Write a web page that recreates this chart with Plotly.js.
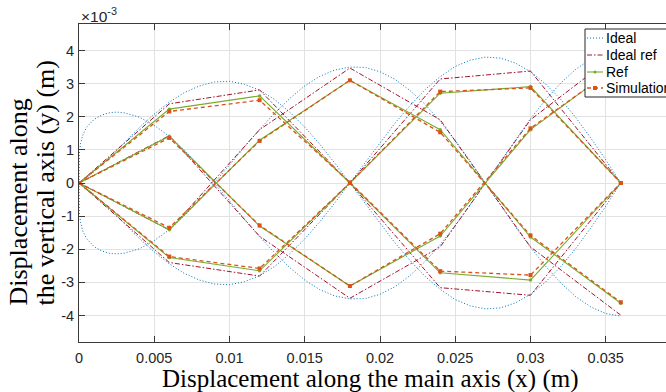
<!DOCTYPE html>
<html><head><meta charset="utf-8">
<script src="https://cdn.plot.ly/plotly-3.0.1.min.js"></script>
<style>html,body{margin:0;padding:0;overflow:hidden;background:#fff}#chart{width:682px;height:392px}</style>
</head><body><div id="chart"></div>
<script>
// ---------- data (x in m, y in 1e-3 m) ----------
const xSample = [0, 0.006, 0.012, 0.018, 0.024, 0.030, 0.036];

// Ideal ref (sampled ideal), four trajectories
const idealRefA = [0, 2.39, 2.81, 0, -3.16, -3.39, 0];
const idealRefB = [0, -2.40, -2.81, 0, 3.14, 3.38, 0];
const idealRefC = [0, 1.43, -1.61, -3.48, -1.93, 1.91, 4.00];
const idealRefD = [0, -1.42, 1.61, 3.47, 1.91, -1.93, -3.99];

// Ref
const refA = [0, 2.23, 2.63, 0, -2.71, -2.93, 0];
const refB = [0, -2.25, -2.65, 0, 2.71, 2.91, 0];
const refC = [0, 1.41, -1.30, -3.11, -1.60, 1.61, 3.62];
const refD = [0, -1.41, 1.29, 3.10, 1.61, -1.63, -3.63];

// Simulation
const simA = [0, 2.16, 2.50, 0.02, -2.66, -2.78, 0];
const simB = [0, -2.22, -2.58, 0, 2.76, 2.87, 0];
const simC = [0, 1.36, -1.28, -3.11, -1.53, 1.65, 3.60];
const simD = [0, -1.35, 1.27, 3.10, 1.53, -1.58, -3.60];

// Ideal (continuous curves)
const xIdeal = [0, 0.00002, 0.0001, 0.00025, 0.0005, 0.001, 0.0015, 0.002, 0.0025, 0.003,
  0.004, 0.005, 0.006, 0.007, 0.008, 0.009, 0.010, 0.011, 0.012, 0.013, 0.014, 0.015, 0.016,
  0.017, 0.018, 0.019, 0.020, 0.021, 0.022, 0.023, 0.024, 0.025, 0.026, 0.027, 0.028, 0.029,
  0.030, 0.031, 0.032, 0.033, 0.034, 0.035, 0.036];
const idealA = [0, 0.003, 0.02, 0.06, 0.15, 0.34, 0.55, 0.77, 1.00, 1.22, 1.67, 2.08, 2.44, 2.73,
  2.93, 3.05, 3.07, 2.98, 2.80, 2.52, 2.14, 1.69, 1.17, 0.60, 0, -0.62, -1.22, -1.81, -2.34,
  -2.82, -3.21, -3.52, -3.71, -3.80, -3.77, -3.62, -3.36, -2.99, -2.53, -1.98, -1.36, -0.70, 0];
const idealB = [0, -0.003, -0.02, -0.06, -0.15, -0.34, -0.55, -0.77, -1.00, -1.22, -1.67, -2.08,
  -2.44, -2.73, -2.93, -3.05, -3.07, -2.98, -2.80, -2.52, -2.14, -1.69, -1.17, -0.60, 0, 0.62,
  1.22, 1.81, 2.34, 2.82, 3.21, 3.52, 3.71, 3.80, 3.77, 3.62, 3.36, 2.99, 2.53, 1.98, 1.36, 0.70, 0];
const idealC = [0, 0.85, 1.18, 1.45, 1.68, 1.92, 2.05, 2.12, 2.14, 2.12, 1.99, 1.74, 1.41, 0.99,
  0.52, 0, -0.54, -1.09, -1.62, -2.11, -2.55, -2.93, -3.22, -3.41, -3.50, -3.49, -3.36, -3.13,
  -2.79, -2.37, -1.86, -1.28, -0.66, 0, 0.66, 1.32, 1.94, 2.51, 3.01, 3.43, 3.74, 3.94, 4.02];
const idealD = [0, -0.85, -1.18, -1.45, -1.68, -1.92, -2.05, -2.12, -2.14, -2.12, -1.99, -1.74,
  -1.41, -0.99, -0.52, 0, 0.54, 1.09, 1.62, 2.11, 2.55, 2.93, 3.22, 3.41, 3.50, 3.49, 3.36, 3.13,
  2.79, 2.37, 1.86, 1.28, 0.66, 0, -0.66, -1.32, -1.94, -2.51, -3.01, -3.43, -3.74, -3.94, -4.02];

const xTicks = [0, 0.005, 0.01, 0.015, 0.02, 0.025, 0.03, 0.035];
const xTickLabels = ['0', '0.005', '0.01', '0.015', '0.02', '0.025', '0.03', '0.035'];
const yTicks = [-4, -3, -2, -1, 0, 1, 2, 3, 4];
const yTickLabels = ['-4', '-3', '-2', '-1', '0', '1', '2', '3', '4'];
const legendNames = ['Ideal', 'Ideal ref', 'Ref', 'Simulation'];

// ---------- styles ----------
const C_IDEAL = '#0072BD', C_IREF = '#A2142F', C_REF = '#77AC30', C_SIM = '#D95319';
const DOT = '1px,2px', DASHDOT = '5px,2px,1.5px,2px', DASH = '4px,3px';

const traces = [];
[idealA, idealB, idealC, idealD].forEach(y => traces.push({x: xIdeal, y, mode: 'lines',
  line: {color: C_IDEAL, width: 1, dash: DOT}, showlegend: false, hoverinfo: 'skip'}));
[idealRefA, idealRefB, idealRefC, idealRefD].forEach(y => traces.push({x: xSample, y, mode: 'lines',
  line: {color: C_IREF, width: 1, dash: DASHDOT}, showlegend: false}));
[refA, refB, refC, refD].forEach(y => traces.push({x: xSample, y, mode: 'lines+markers',
  line: {color: C_REF, width: 1.1}, marker: {color: C_REF, size: 3.5, symbol: 'circle'}, showlegend: false}));
[simA, simB, simC, simD].forEach(y => traces.push({x: xSample, y, mode: 'lines+markers',
  line: {color: C_SIM, width: 1.3, dash: DASH}, marker: {color: C_SIM, size: 4, symbol: 'square'}, showlegend: false}));

// ---------- layout helpers ----------
const W = 682, H = 392, ML = 79, MR = 1, MT = 24, MB = 50;
const pxX = p => (p - ML) / (W - ML - MR);
const pxY = p => (H - MB - p) / (H - MT - MB);

const shapes = [];
const annotations = [];
// custom legend (box + samples)
shapes.push({type: 'rect', xref: 'paper', yref: 'paper', x0: pxX(585), x1: pxX(720), y0: pxY(97), y1: pxY(29),
  fillcolor: '#ffffff', line: {color: '#262626', width: 1}, layer: 'above'});
const legRows = [38, 55, 72, 88];
const legStyles = [
  {color: C_IDEAL, dash: DOT, width: 1},
  {color: C_IREF, dash: DASHDOT, width: 1},
  {color: C_REF, dash: 'solid', width: 1.1},
  {color: C_SIM, dash: DASH, width: 1.3}
];
legRows.forEach((r, i) => {
  shapes.push({type: 'line', xref: 'paper', yref: 'paper', x0: pxX(587), x1: pxX(603), y0: pxY(r), y1: pxY(r),
    line: legStyles[i], layer: 'above'});
  annotations.push({xref: 'paper', yref: 'paper', x: pxX(604), y: pxY(r), xanchor: 'left', yanchor: 'middle',
    text: legendNames[i], showarrow: false, font: {family: 'Liberation Sans, Arial, sans-serif', size: 14, color: '#000'}});
});
shapes.push({type: 'circle', xref: 'paper', yref: 'paper', x0: pxX(593.5), x1: pxX(596.5), y0: pxY(73.5), y1: pxY(70.5),
  fillcolor: C_REF, line: {color: C_REF, width: 0}, layer: 'above'});
shapes.push({type: 'rect', xref: 'paper', yref: 'paper', x0: pxX(593), x1: pxX(597), y0: pxY(90), y1: pxY(86),
  fillcolor: C_SIM, line: {color: C_SIM, width: 0}, layer: 'above'});

// titles
const serif = {family: 'Liberation Serif, Times New Roman, serif', size: 25, color: '#000'};
annotations.push({xref: 'paper', yref: 'paper', x: pxX(370.5), y: pxY(379), xanchor: 'center', yanchor: 'middle',
  text: 'Displacement along the main axis (x) (m)', showarrow: false, font: serif});
annotations.push({xref: 'paper', yref: 'paper', x: pxX(18), y: pxY(308), xanchor: 'center', yanchor: 'bottom',
  text: 'Displacement along', showarrow: false, textangle: -90,
  font: Object.assign({}, serif, {size: 26})});
annotations.push({xref: 'paper', yref: 'paper', x: pxX(45), y: pxY(308), xanchor: 'center', yanchor: 'bottom',
  text: 'the vertical axis (y) (m)', showarrow: false, textangle: -90,
  font: Object.assign({}, serif, {size: 26})});
annotations.push({xref: 'paper', yref: 'paper', x: pxX(79), y: pxY(15), xanchor: 'left', yanchor: 'middle',
  text: '×10<sup>-3</sup>', showarrow: false,
  font: {family: 'Liberation Sans, Arial, sans-serif', size: 15.5, color: '#262626'}});

const axisCommon = {
  showgrid: true, gridcolor: '#e2e2e2', gridwidth: 1, zeroline: false,
  showline: true, linecolor: '#3a3a3a', linewidth: 1, mirror: 'ticks',
  ticks: 'inside', ticklen: 6, tickcolor: '#3a3a3a', tickwidth: 1,
  tickfont: {family: 'Liberation Sans, Arial, sans-serif', size: 14.5, color: '#262626'},
  fixedrange: true
};

const layout = {
  width: W, height: H,
  margin: {l: ML, r: MR, t: MT, b: MB},
  paper_bgcolor: '#ffffff', plot_bgcolor: '#ffffff',
  showlegend: false,
  xaxis: Object.assign({}, axisCommon, {range: [0, 0.04], tickmode: 'array', tickvals: xTicks, ticktext: xTickLabels,
    ticklabelstandoff: 3}),
  yaxis: Object.assign({}, axisCommon, {range: [-4.8, 4.8], tickmode: 'array', tickvals: yTicks, ticktext: yTickLabels,
    ticklabelstandoff: 1}),
  shapes, annotations
};

Plotly.newPlot('chart', traces, layout, {displayModeBar: false, staticPlot: true});
</script>
</body></html>
